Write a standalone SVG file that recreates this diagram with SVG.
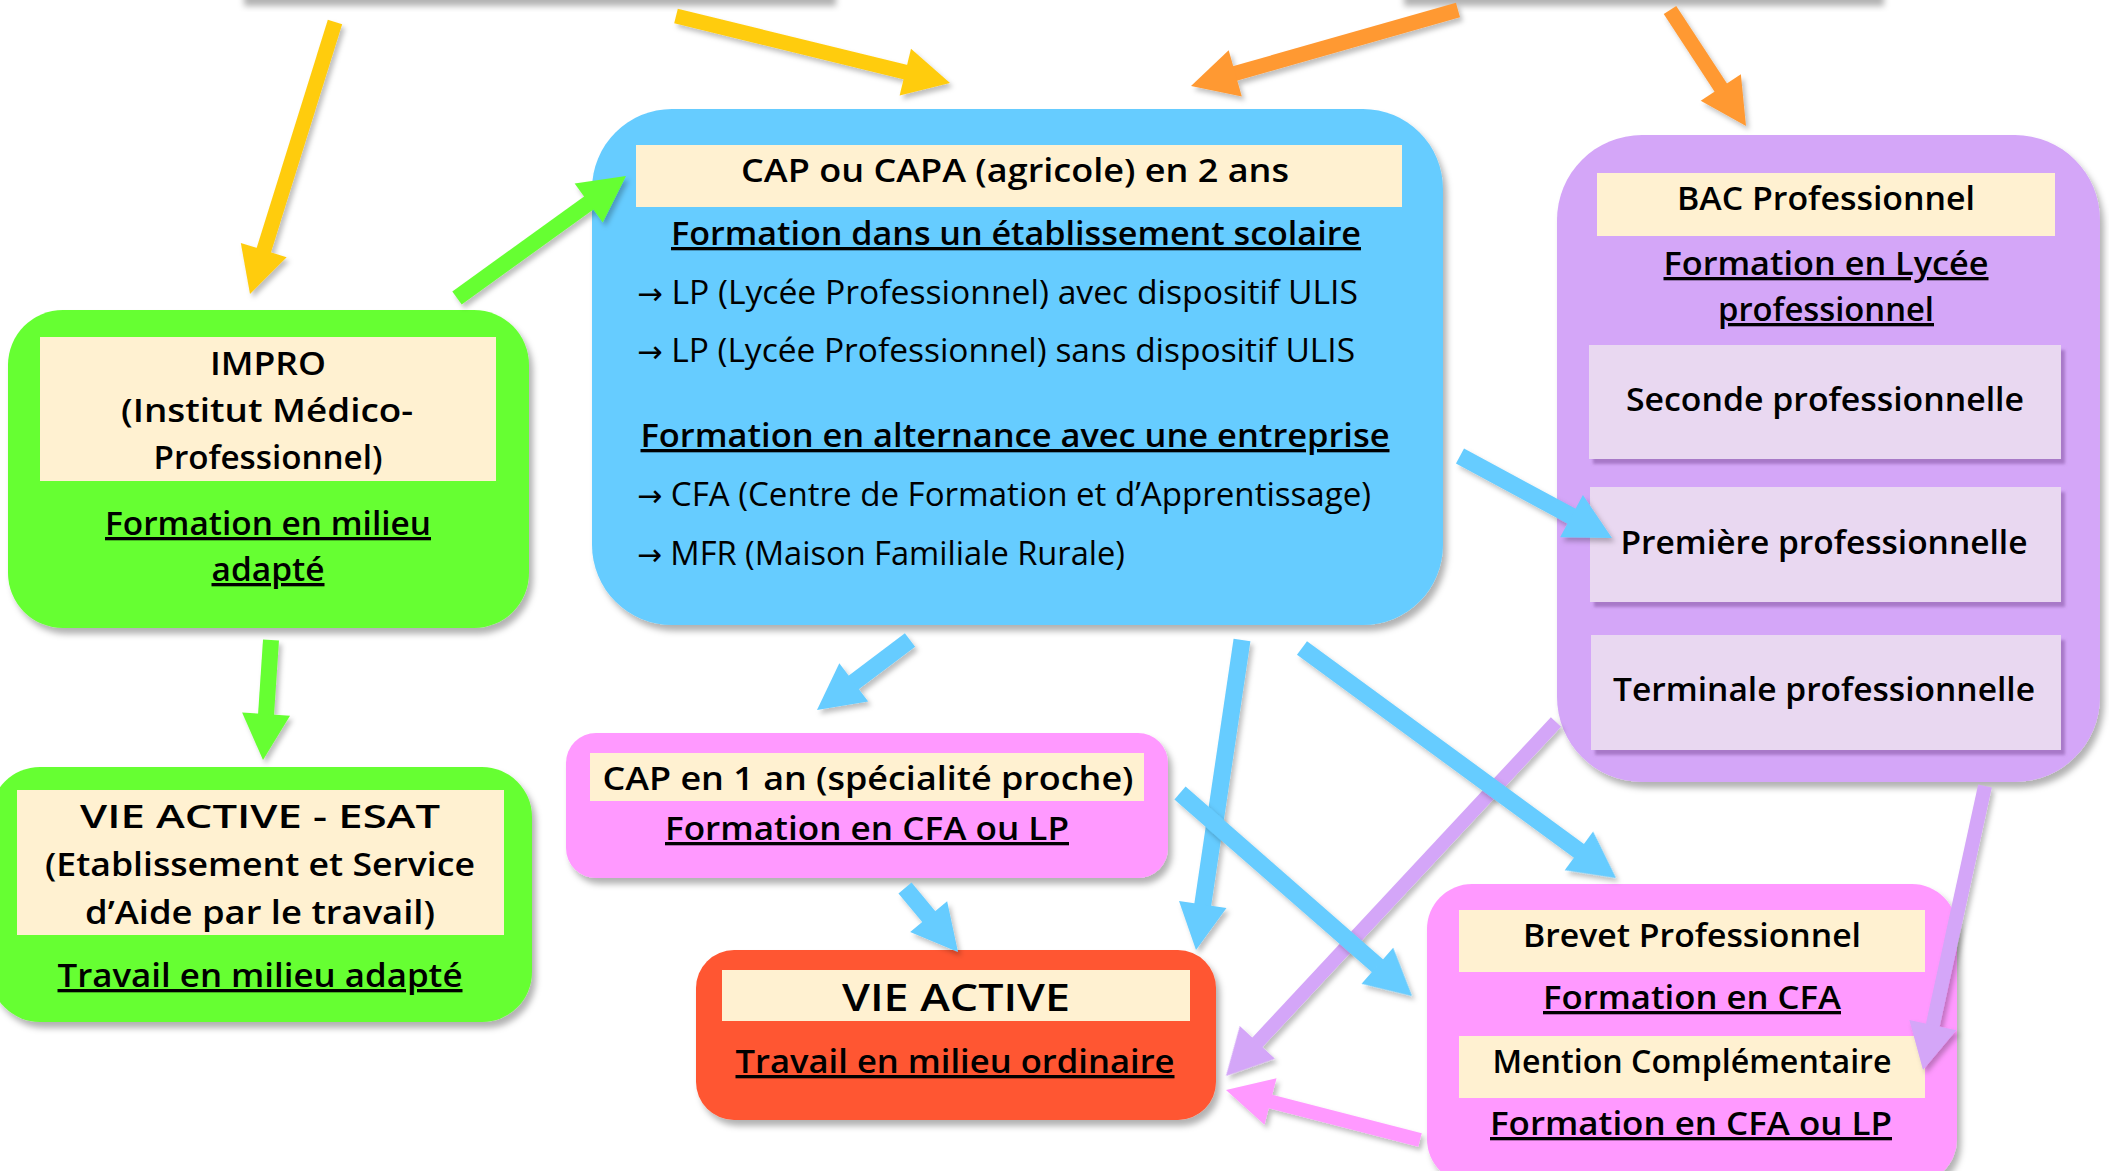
<svg xmlns="http://www.w3.org/2000/svg" xmlns:xlink="http://www.w3.org/1999/xlink" width="2109" height="1171" viewBox="0 0 2109 1171">
<style>
.t{font-family:'Open Sans','Noto Sans',sans-serif;font-size:33px;text-anchor:middle;fill:#000;font-weight:600}
.l{text-anchor:start;font-weight:400}
.ar{font-family:'DejaVu Sans',sans-serif;font-size:30px}
.u{text-decoration:underline;text-decoration-thickness:3.5px}
.big{font-size:37px}
.box{filter:url(#sh)}
.beige{fill:#FFF1D1}
.sub{fill:#E9D8F1;filter:url(#sh2)}
.a line{stroke-linecap:butt}
.yel line{stroke:#FFCC11;stroke-width:15}.yel use{fill:#FFCC11}
.ora line{stroke:#FF9933;stroke-width:15}.ora use{fill:#FF9933}
.grn line{stroke:#66FF33;stroke-width:16}.grn use{fill:#66FF33}
.blu line{stroke:#66CCFF;stroke-width:17}.blu use{fill:#66CCFF}
.pur line{stroke:#D4A6F8;stroke-width:14}.pur use{fill:#D4A6F8}
.pnk line{stroke:#FF99FF;stroke-width:14}.pnk use{fill:#FF99FF}
.a{filter:url(#sh3)}
</style>
<defs>
<filter id="sh" x="-10%" y="-10%" width="125%" height="130%"><feDropShadow dx="4" dy="6" stdDeviation="3" flood-color="#000" flood-opacity="0.3"/></filter>
<filter id="sh2" x="-5%" y="-10%" width="115%" height="130%"><feDropShadow dx="4" dy="5" stdDeviation="1.5" flood-color="#8a5aa8" flood-opacity="0.6"/></filter>
<filter id="sh3" x="-20%" y="-20%" width="150%" height="150%"><feDropShadow dx="3" dy="4" stdDeviation="2.5" flood-color="#000" flood-opacity="0.25"/></filter>
<path id="ah" d="M0,0 L-46,-24 L-46,24 Z"/>
</defs>
<rect width="2109" height="1171" fill="#ffffff"/>

<!-- off-canvas boxes shadows at top -->
<rect x="240" y="-60" width="592" height="60" fill="#ffffff" class="box"/>
<rect x="1400" y="-60" width="480" height="60" fill="#ffffff" class="box"/>

<g id="impro">
<rect x="8" y="310" width="521" height="318" rx="55" fill="#66FF33" class="box"/>
<rect x="40" y="337" width="456" height="144" class="beige"/>
<text class="t" x="268" y="375" textLength="116" lengthAdjust="spacingAndGlyphs">IMPRO</text>
<text class="t" x="267" y="422" textLength="292" lengthAdjust="spacingAndGlyphs">(Institut Médico-</text>
<text class="t" x="268" y="469" textLength="229" lengthAdjust="spacingAndGlyphs">Professionnel)</text>
<text class="t u" x="268" y="535" textLength="326" lengthAdjust="spacingAndGlyphs">Formation en milieu</text>
<text class="t u" x="268" y="581" textLength="113" lengthAdjust="spacingAndGlyphs">adapté</text>
</g>

<g id="cap">
<rect x="592" y="109" width="851" height="516" rx="80" fill="#66CCFF" class="box"/>
<rect x="636" y="145" width="766" height="62" class="beige"/>
<text class="t" x="1015" y="182" textLength="548" lengthAdjust="spacingAndGlyphs">CAP ou CAPA (agricole) en 2 ans</text>
<text class="t u" x="1016" y="245" textLength="690" lengthAdjust="spacingAndGlyphs">Formation dans un établissement scolaire</text>
<text class="t l" x="637" y="304" textLength="721" lengthAdjust="spacingAndGlyphs"><tspan class="ar">→</tspan> LP (Lycée Professionnel) avec dispositif ULIS</text>
<text class="t l" x="637" y="362" textLength="718" lengthAdjust="spacingAndGlyphs"><tspan class="ar">→</tspan> LP (Lycée Professionnel) sans dispositif ULIS</text>
<text class="t u" x="1015" y="447" textLength="749" lengthAdjust="spacingAndGlyphs">Formation en alternance avec une entreprise</text>
<text class="t l" x="637" y="506" textLength="734" lengthAdjust="spacingAndGlyphs"><tspan class="ar">→</tspan> CFA (Centre de Formation et d’Apprentissage)</text>
<text class="t l" x="637" y="565" textLength="488" lengthAdjust="spacingAndGlyphs"><tspan class="ar">→</tspan> MFR (Maison Familiale Rurale)</text>
</g>

<g id="bac">
<rect x="1557" y="135" width="543" height="647" rx="85" fill="#D4A6F8" class="box"/>
<rect x="1597" y="173" width="458" height="63" class="beige"/>
<text class="t" x="1826" y="210" textLength="298" lengthAdjust="spacingAndGlyphs">BAC Professionnel</text>
<text class="t u" x="1826" y="275" textLength="325" lengthAdjust="spacingAndGlyphs">Formation en Lycée</text>
<text class="t u" x="1826" y="321" textLength="216" lengthAdjust="spacingAndGlyphs">professionnel</text>
<g id="seconde">
<rect x="1589" y="345" width="472" height="114" class="sub"/>
<text class="t" x="1825" y="411" textLength="398" lengthAdjust="spacingAndGlyphs">Seconde professionnelle</text>
</g>
<g id="premiere">
<rect x="1590" y="487" width="471" height="115" class="sub"/>
<text class="t" x="1824" y="554" textLength="407" lengthAdjust="spacingAndGlyphs">Première professionnelle</text>
</g>
<g id="terminale">
<rect x="1591" y="635" width="470" height="115" class="sub"/>
<text class="t" x="1824" y="701" textLength="422" lengthAdjust="spacingAndGlyphs">Terminale professionnelle</text>
</g>
</g>

<g id="esat">
<rect x="-10" y="767" width="542" height="255" rx="50" fill="#66FF33" class="box"/>
<rect x="17" y="790" width="487" height="145" class="beige"/>
<text class="t" x="260" y="828" textLength="360" lengthAdjust="spacingAndGlyphs">VIE ACTIVE - ESAT</text>
<text class="t" x="260" y="876" textLength="430" lengthAdjust="spacingAndGlyphs">(Etablissement et Service</text>
<text class="t" x="260" y="924" textLength="350" lengthAdjust="spacingAndGlyphs">d’Aide par le travail)</text>
<text class="t u" x="260" y="987" textLength="405" lengthAdjust="spacingAndGlyphs">Travail en milieu adapté</text>
</g>

<g id="cap1an">
<rect x="566" y="733" width="602" height="145" rx="30" fill="#FF99FF" class="box"/>
<rect x="590" y="753" width="554" height="48" class="beige"/>
<text class="t" x="868" y="790" textLength="531" lengthAdjust="spacingAndGlyphs">CAP en 1 an (spécialité proche)</text>
<text class="t u" x="867" y="840" textLength="404" lengthAdjust="spacingAndGlyphs">Formation en CFA ou LP</text>
</g>

<g id="vieactive">
<rect x="696" y="950" width="520" height="170" rx="38" fill="#FF5733" class="box"/>
<rect x="722" y="970" width="468" height="51" class="beige"/>
<text class="t big" x="956" y="1011" textLength="228" lengthAdjust="spacingAndGlyphs">VIE ACTIVE</text>
<text class="t u" x="955" y="1073" textLength="439" lengthAdjust="spacingAndGlyphs">Travail en milieu ordinaire</text>
</g>

<g id="brevet">
<rect x="1427" y="884" width="530" height="300" rx="45" fill="#FF99FF" class="box"/>
<rect x="1459" y="910" width="466" height="62" class="beige"/>
<text class="t" x="1692" y="947" textLength="338" lengthAdjust="spacingAndGlyphs">Brevet Professionnel</text>
<text class="t u" x="1692" y="1009" textLength="298" lengthAdjust="spacingAndGlyphs">Formation en CFA</text>
<rect x="1459" y="1036" width="466" height="62" class="beige"/>
<text class="t" x="1692" y="1073" textLength="399" lengthAdjust="spacingAndGlyphs">Mention Complémentaire</text>
<text class="t u" x="1691" y="1135" textLength="402" lengthAdjust="spacingAndGlyphs">Formation en CFA ou LP</text>
</g>

<g id="connectors">
<g class="a yel"><line x1="335" y1="22" x2="262" y2="256"/><use href="#ah" transform="translate(250,294) rotate(107.35)"/></g>
<g class="a yel"><line x1="676" y1="16" x2="911" y2="73.5"/><use href="#ah" transform="translate(950,83) rotate(13.74)"/></g>
<g class="a ora"><line x1="1458" y1="10" x2="1229.5" y2="75"/><use href="#ah" transform="translate(1191,86) rotate(164.11)"/></g>
<g class="a ora"><line x1="1670" y1="10" x2="1724" y2="92.5"/><use href="#ah" transform="translate(1746,126) rotate(56.77)"/></g>
<g class="a grn"><line x1="457" y1="298" x2="593.6" y2="199.4"/><use href="#ah" transform="translate(626,176) rotate(-35.83)"/></g>
<g class="a grn"><line x1="271" y1="640" x2="265.7" y2="720"/><use href="#ah" transform="translate(263,760) rotate(93.81)"/></g>
<g class="a blu"><line x1="1460" y1="456" x2="1576.8" y2="519"/><use href="#ah" transform="translate(1612,538) rotate(28.35)"/></g>
<g class="a blu"><line x1="910" y1="640" x2="849" y2="686"/><use href="#ah" transform="translate(817,710) rotate(143.03)"/></g>
<g class="a pur"><line x1="1556" y1="722" x2="1253.3" y2="1046.8"/><use href="#ah" transform="translate(1226,1076) rotate(132.99)"/></g>
<g class="a blu"><line x1="1242" y1="640" x2="1201.9" y2="910.4"/><use href="#ah" transform="translate(1196,950) rotate(98.44)"/></g>
<g class="a blu"><line x1="1302" y1="648" x2="1583.7" y2="854.4"/><use href="#ah" transform="translate(1616,878) rotate(36.22)"/></g>
<g class="a blu"><line x1="1180" y1="793" x2="1381.9" y2="969.7"/><use href="#ah" transform="translate(1412,996) rotate(41.19)"/></g>
<g class="a blu"><line x1="905" y1="888" x2="932.5" y2="921.2"/><use href="#ah" transform="translate(958,952) rotate(50.37)"/></g>
<g class="a pur"><line x1="1985" y1="786" x2="1931.5" y2="1030.9"/><use href="#ah" transform="translate(1923,1070) rotate(102.32)"/></g>
<g class="a pnk"><line x1="1420" y1="1140" x2="1264.7" y2="1100"/><use href="#ah" transform="translate(1226,1090) rotate(-165.55)"/></g>
</g>
</svg>
